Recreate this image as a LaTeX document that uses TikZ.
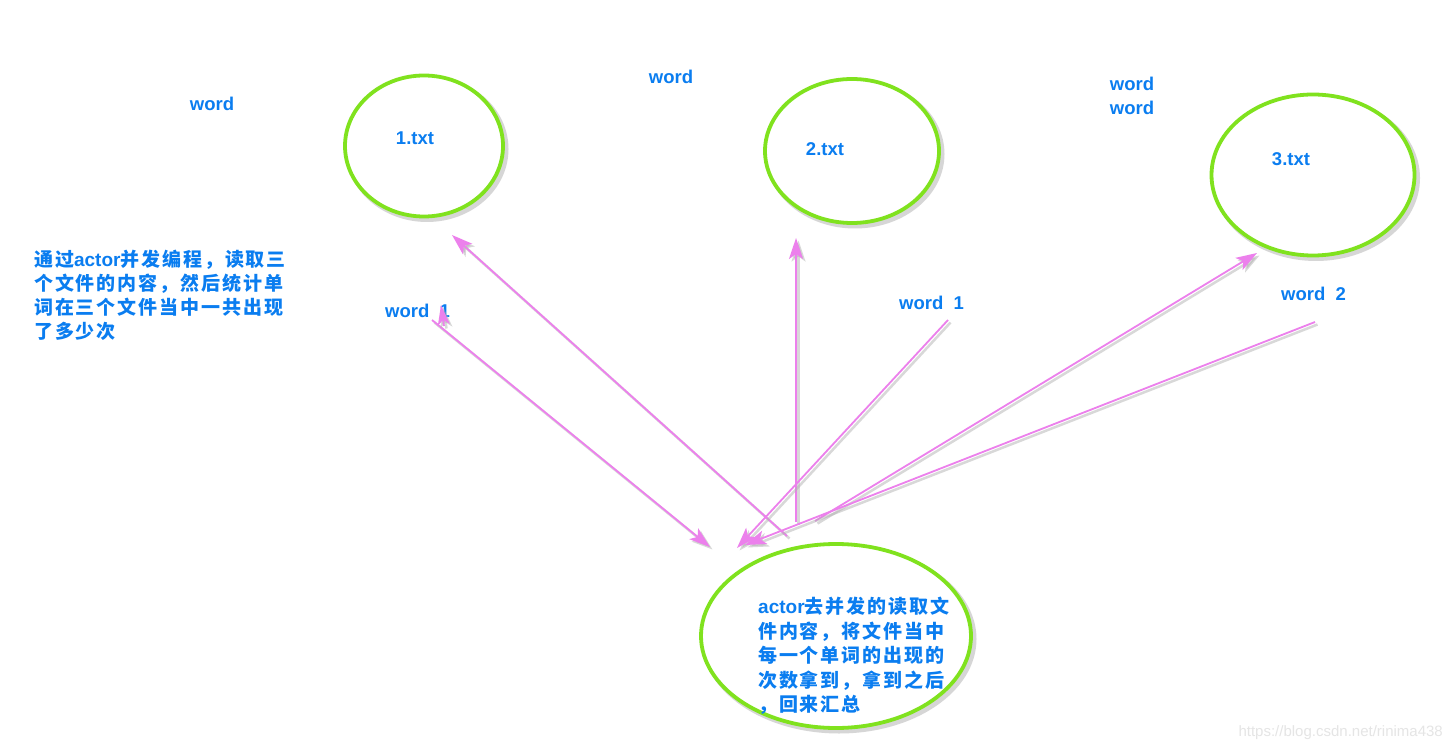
\documentclass[tikz,border=0pt]{standalone}
\usepackage{fontspec}
\setmainfont{Liberation Sans}
\newfontfamily\cjk[LetterSpace=10]{Noto Sans CJK SC}
\usetikzlibrary{arrows.meta,shapes.geometric}

\definecolor{wordblue}{RGB}{10,125,240}
\definecolor{ringgreen}{RGB}{128,226,30}
\definecolor{arrowpink}{RGB}{236,128,236}
\newcommand\lat[1]{{\rmfamily #1}}

\tikzset{
  filering/.style={ellipse, draw=ringgreen, line width=3.8pt, fill=white, inner sep=0pt,
    preaction={draw=black!40, line width=5pt, opacity=.4, transform canvas={shift={(3,3)}}}},
  wordtxt/.style={text=wordblue, font=\bfseries\fontsize{18.5}{24}\selectfont, inner sep=0pt},
  note/.style={text=wordblue, font=\bfseries\cjk\fontsize{19}{24}\selectfont, align=left,
    inner sep=0pt, anchor=north west},
  link/.style={draw=arrowpink, line width=1.8pt, -{Stealth[length=21pt,width=14pt,inset=5pt]},
    preaction={draw=black!30, opacity=.5, line width=2.5pt, transform canvas={shift={(2.5,2.5)}}}},
}

\begin{document}
\begin{tikzpicture}[x=1pt,y=-1pt]
    \fill[white] (0,0) rectangle (1456,751);
    \useasboundingbox (0,0) rectangle (1456,751);

    % File rings
    \node[filering, minimum width=158, minimum height=141] (f1) at (424,146) {};
    \node[filering, minimum width=174, minimum height=144] (f2) at (852,151) {};
    \node[filering, minimum width=203, minimum height=161] (f3) at (1313,175) {};
    \node[filering, minimum width=270, minimum height=184] (act) at (836,636) {};

    % File names and their words
    \node[wordtxt] (t1) at (415,138) {1.txt};
    \node[wordtxt] (t2) at (825,149) {2.txt};
    \node[wordtxt] (t3) at (1291,159) {3.txt};
    \node[wordtxt] (w1) at (212,104) {word};
    \node[wordtxt] (w2) at (671,77) {word};
    \node[wordtxt, align=center] (w3) at (1132,96) {word\\word};

    % Counts sent back
    \node[wordtxt, anchor=west] (c1) at (385,311) {word\ \ 1};
    \node[wordtxt, anchor=west] (c2) at (899,303) {word\ \ 1};
    \node[wordtxt, anchor=west] (c3) at (1281,294) {word\ \ 2};

    % Notes
    \node[note] (goal) at (34,250) {通过\lat{actor}并发编程，读取三\\个文件的内容，然后统计单\\词在三个文件当中一共出现\\了多少次};
    \node[note, font=\bfseries\cjk\fontsize{19}{24.5}\selectfont] (plan) at (758,597)
        {\lat{actor}去并发的读取文\\件内容，将文件当中\\每一个单词的出现的\\次数拿到，拿到之后\\，回来汇总};

    % Arrow ends
    \coordinate (a1s) at (787,536);  \coordinate (a1e) at (452,235);
    \coordinate (a2s) at (432,320);  \coordinate (a2e) at (710,547);
    \coordinate (a2b) at (444,326);  \coordinate (a2t) at (441,305);
    \coordinate (a3s) at (796,522);  \coordinate (a3e) at (796,238);
    \coordinate (a4s) at (948,320);  \coordinate (a4e) at (737,548);
    \coordinate (a5s) at (815,521);  \coordinate (a5e) at (1257,253);
    \coordinate (a6s) at (1315,322); \coordinate (a6e) at (745,545);

    % Messages
    \draw[link] (a1s) -- (a1e);
    \draw[link] (a2s) -- (a2e);
    \draw[link, -{Stealth[length=20pt,width=12pt,inset=5pt]}] (a2b) -- (a2t);
    \draw[link] (a3s) -- (a3e);
    \draw[link] (a4s) -- (a4e);
    \draw[link] (a5s) -- (a5e);
    \draw[link] (a6s) -- (a6e);

    % Watermark
    \node[text=black!10, font=\fontsize{15}{15}\selectfont, anchor=east, inner sep=0pt] (mark) at (1443,733) {https://blog.csdn.net/rinima438};
\end{tikzpicture}
\end{document}
